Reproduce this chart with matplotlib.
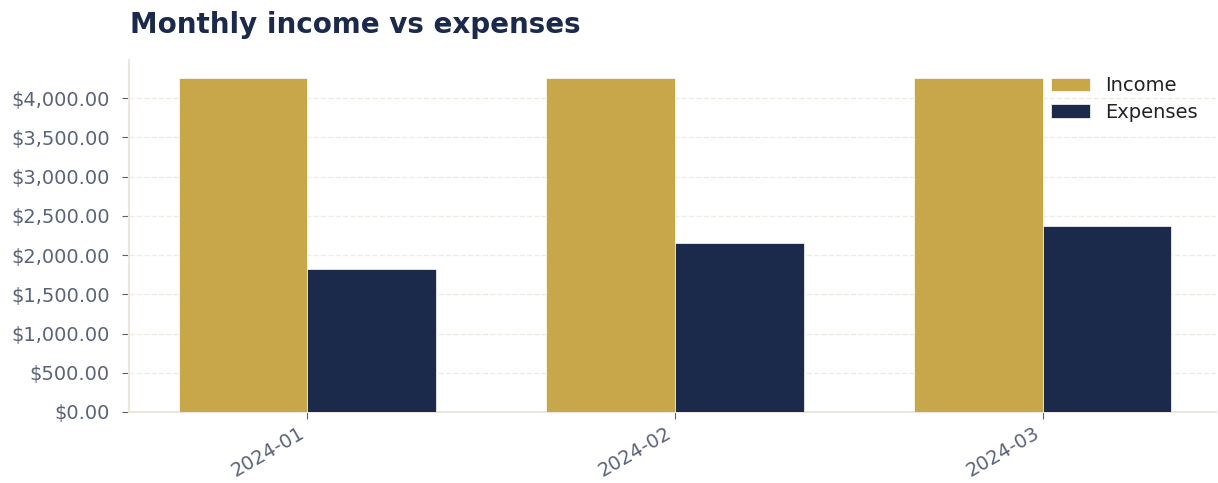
import numpy as np
import matplotlib.pyplot as plt
from matplotlib.ticker import FuncFormatter

months = ["2024-01", "2024-02", "2024-03"]
income = [4260, 4260, 4260]
expenses = [1825, 2150, 2370]

income_color = "#c8a74a"
expense_color = "#1b2a4b"
text_color = "#5a6478"
spine_color = "#ebe7dd"

fig, ax = plt.subplots(figsize=(12.18, 4.83), dpi=100)
fig.subplots_adjust(left=0.106, right=0.998, top=0.875, bottom=0.147)

x = np.arange(len(months))
width = 0.35
ax.bar(x - width / 2, income, width, color=income_color, edgecolor="white", linewidth=0.5, label="Income", zorder=3)
ax.bar(x + width / 2, expenses, width, color=expense_color, edgecolor="white", linewidth=0.5, label="Expenses", zorder=3)

ax.set_xticks(x)
ax.set_xticklabels(months, rotation=30, ha="right")
ax.yaxis.set_major_formatter(FuncFormatter(lambda v, p: f"${v:,.2f}"))
ax.set_yticks(np.arange(0, 4001, 500))
ax.set_xlim(-0.485, 2.47)
ax.set_ylim(0, 4480)

# styling
for side in ["top", "right"]:
    ax.spines[side].set_visible(False)
for side in ["left", "bottom"]:
    ax.spines[side].set_color(spine_color)
    ax.spines[side].set_linewidth(1.5)
ax.tick_params(axis="both", labelsize=14, labelcolor=text_color, color="#5a5f6a", length=5)
ax.tick_params(axis="y", pad=9)
ax.grid(axis="y", linestyle="--", color="#efece4", linewidth=1, zorder=0)

ax.set_title("Monthly income vs expenses", loc="left", fontsize=20, fontweight="bold",
             color="#1b2a4b", pad=20, x=0.001)
ax.legend(loc="upper right", frameon=False, fontsize=14, handlelength=2.0, labelspacing=0.4,
          bbox_to_anchor=(1.0, 1.005), labelcolor="#222222")

fig.savefig("out.png", dpi=100)
